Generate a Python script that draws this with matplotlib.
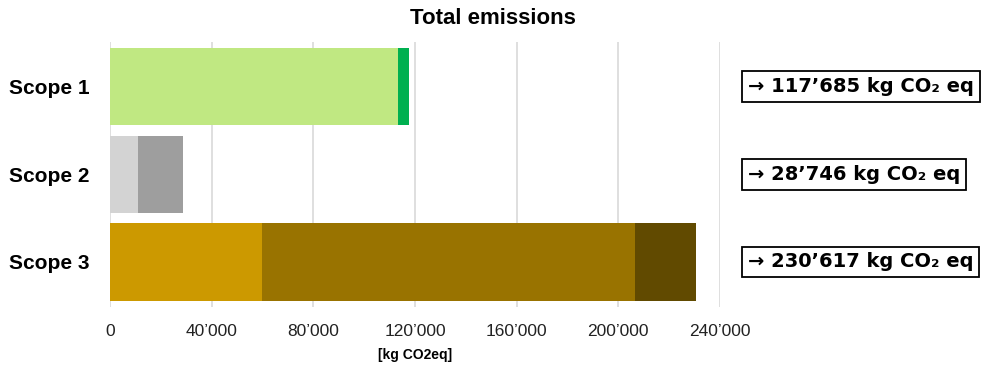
import matplotlib
matplotlib.use("Agg")
import matplotlib.pyplot as plt
from matplotlib.ticker import FuncFormatter
import matplotlib.transforms as mtransforms

plt.rcParams.update({
    "font.family": ["Liberation Sans", "DejaVu Sans"],
    "font.size": 12,
})

# Daten
scopes = ["Scope 1", "Scope 2", "Scope 3"]
# Segmente pro Scope (kg CO2eq), von links nach rechts
segments = [
    [113200, 4485],
    [11000, 17746],
    [59800, 146800, 24017],
]
seg_colors = [
    ["#C0E882", "#00B050"],
    ["#D3D3D3", "#9E9E9E"],
    ["#CC9900", "#997300", "#614A00"],
]
totals = [117685, 28746, 230617]
total_labels = ["117’685", "28’746", "230’617"]
xticks = [0, 40000, 80000, 120000, 160000, 200000, 240000]

fig = plt.figure(figsize=(9.9, 3.75), dpi=100)
ax = fig.add_axes([110 / 990, 1 - 307 / 375, 610 / 990, 265 / 375])

for i, (segs, cols) in enumerate(zip(segments, seg_colors)):
    left = 0
    for val, c in zip(segs, cols):
        ax.barh(i, val, left=left, height=0.88, color=c, zorder=2)
        left += val

ax.set_xlim(0, 240000)
ax.set_ylim(2.513, -0.507)
ax.set_xticks(xticks)
ax.xaxis.set_major_formatter(FuncFormatter(lambda v, p: "0" if v == 0 else f"{int(v):,}".replace(",", "’")))
ax.set_yticks(range(len(scopes)))
ax.set_yticklabels(scopes, fontsize=15, fontweight="bold")
ax.tick_params(axis="y", length=0, pad=15)
ax.tick_params(axis="x", length=0, pad=12, labelsize=12.5, colors="#222222")
ax.xaxis.grid(True, color="#D9D9D9", linewidth=1.2, zorder=0)
ax.set_axisbelow(True)
for s in ax.spines.values():
    s.set_visible(False)

ax.set_xlabel("[kg CO2eq]", fontsize=10, fontweight="bold", labelpad=7)
fig.text(0.498, 0.952, "Total emissions", ha="center", va="center",
         fontsize=16, fontweight="bold")

# Summenboxen rechts
trans = mtransforms.blended_transform_factory(fig.transFigure, ax.transData)
for i, lab in enumerate(total_labels):
    ax.text(748 / 990, i, f"→ {lab} kg CO₂ eq", transform=trans,
            ha="left", va="center", fontsize=14, fontweight="bold",
            family=["DejaVu Sans"],
            bbox=dict(boxstyle="square,pad=0.3", fc="white", ec="black", lw=1.3))

fig.savefig("out.png", dpi=100)
